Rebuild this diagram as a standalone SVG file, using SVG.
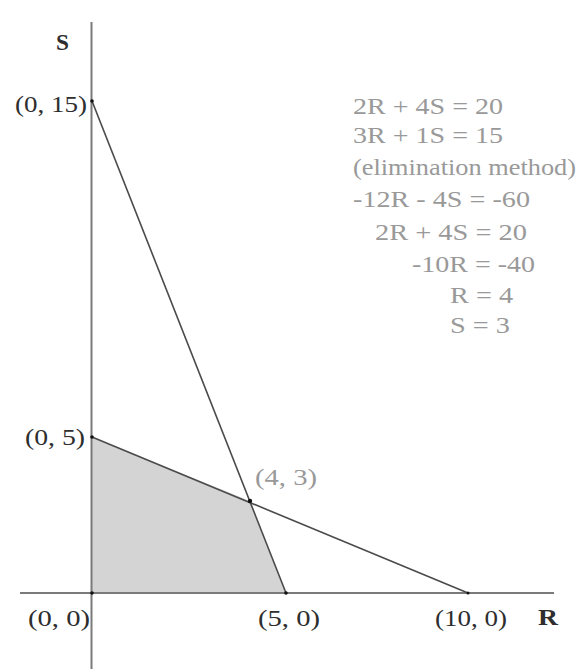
<svg xmlns="http://www.w3.org/2000/svg" width="576" height="669" viewBox="0 0 576 669">
<style>
text{font-family:"Liberation Serif","Times New Roman",serif;font-size:24px}
.dk{fill:#2e2e2e}
.gr{fill:#999}
.b{font-weight:bold}
.axis{stroke:#7a7a7a;stroke-width:2;fill:none}
.cl{stroke:#4a4a4a;stroke-width:1.6;fill:none}
.pt{fill:#111}
</style>
<rect width="576" height="669" fill="#fff"/>
<g id="region">
<polygon points="92,437 250,501 286,593 92,593" fill="#d4d4d4"/>
</g>
<g id="connectors">
<line class="axis" x1="91.5" y1="22" x2="91.5" y2="669"/>
<line class="axis" x1="20" y1="593" x2="554" y2="593"/>
<line class="cl" x1="92" y1="101" x2="286" y2="593"/>
<line class="cl" x1="92" y1="437" x2="468" y2="593"/>
</g>
<g id="points">
<circle class="pt" cx="92" cy="101" r="1.8"/>
<circle class="pt" cx="92" cy="437" r="1.8"/>
<circle class="pt" cx="92" cy="593" r="1.8"/>
<circle class="pt" cx="250" cy="501" r="2.2"/>
<circle class="pt" cx="286" cy="593" r="1.8"/>
<circle class="pt" cx="468" cy="593" r="1.5"/>
</g>
<g id="axis-labels">
<text class="dk b" x="56" y="50" textLength="13" lengthAdjust="spacingAndGlyphs">S</text>
<text class="dk b" x="538" y="625" textLength="20" lengthAdjust="spacingAndGlyphs">R</text>
</g>
<g id="point-labels">
<text class="dk" x="15" y="112" textLength="72" lengthAdjust="spacingAndGlyphs">(0, 15)</text>
<text class="dk" x="25" y="445" textLength="60" lengthAdjust="spacingAndGlyphs">(0, 5)</text>
<text class="dk" x="28" y="626" textLength="62" lengthAdjust="spacingAndGlyphs">(0, 0)</text>
<text class="dk" x="258" y="626" textLength="62" lengthAdjust="spacingAndGlyphs">(5, 0)</text>
<text class="dk" x="435" y="626" textLength="72" lengthAdjust="spacingAndGlyphs">(10, 0)</text>
<text class="gr" x="255" y="485" textLength="62" lengthAdjust="spacingAndGlyphs">(4, 3)</text>
</g>
<g id="equations">
<text class="gr" x="353" y="114" textLength="150" lengthAdjust="spacingAndGlyphs">2R + 4S = 20</text>
<text class="gr" x="353" y="143" textLength="150" lengthAdjust="spacingAndGlyphs">3R + 1S = 15</text>
<text class="gr" x="353" y="175" textLength="223" lengthAdjust="spacingAndGlyphs">(elimination method)</text>
<text class="gr" x="353" y="207" textLength="177" lengthAdjust="spacingAndGlyphs">-12R - 4S = -60</text>
<text class="gr" x="375" y="240" textLength="152" lengthAdjust="spacingAndGlyphs">2R + 4S = 20</text>
<text class="gr" x="412" y="272" textLength="123" lengthAdjust="spacingAndGlyphs">-10R = -40</text>
<text class="gr" x="450" y="303" textLength="63" lengthAdjust="spacingAndGlyphs">R = 4</text>
<text class="gr" x="450" y="333" textLength="60" lengthAdjust="spacingAndGlyphs">S = 3</text>
</g>
</svg>
